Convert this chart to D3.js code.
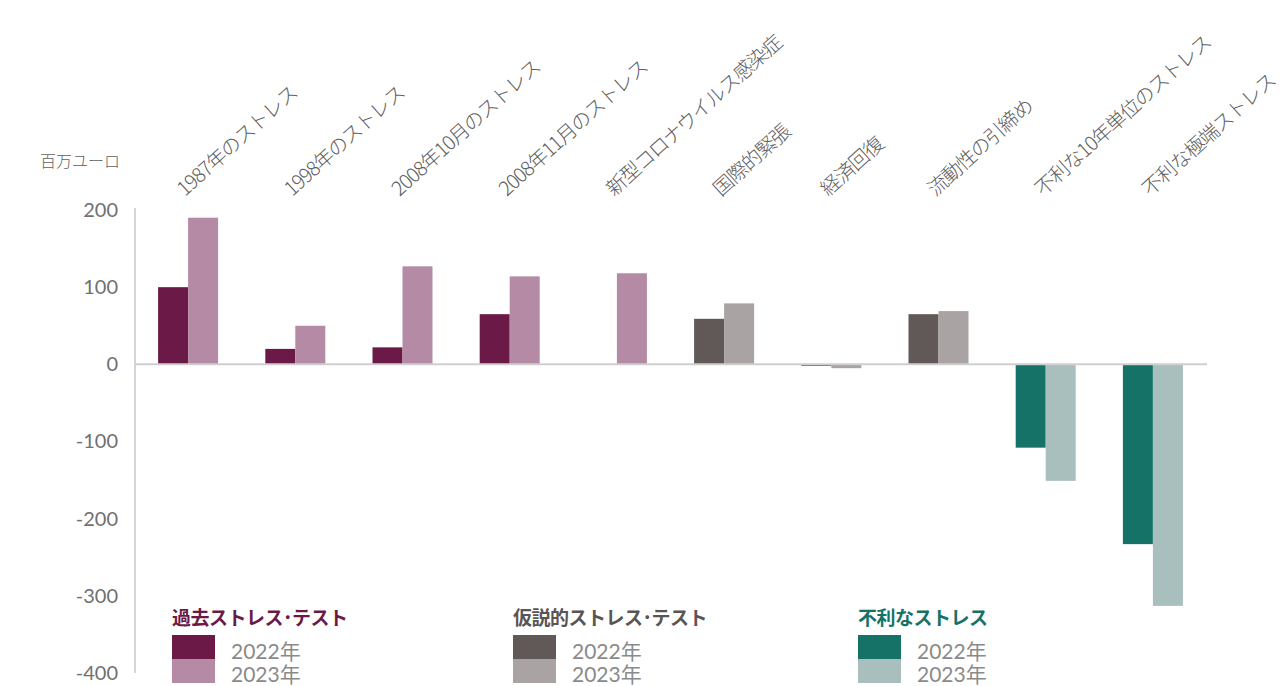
<!DOCTYPE html>
<html lang="ja">
<head>
    <meta charset="UTF-8">
    <title>ストレス・テスト</title>
    <script src="https://d3js.org/d3.v7.min.js"></script>
    <style>
        body {
            margin: 0;
            background: #fff;
            font-family: "Noto Sans CJK JP", "Noto Sans", sans-serif;
        }
        .tick text {
            font-family: Lato, "Noto Sans CJK JP", sans-serif;
            font-size: 20px;
            fill: #707070;
        }
        .cat-label {
            font-size: 20px;
            fill: #606060;
            font-weight: 300;
            letter-spacing: -1px;
        }
        .legend-title {
            font-size: 19px;
            font-weight: bold;
            letter-spacing: -0.5px;
        }
        .legend-text {
            font-family: Lato, "Noto Sans CJK JP", sans-serif;
            font-size: 21px;
            fill: #8a8a8a;
        }
    </style>
</head>
<body>
    <div id="chart"></div>

    <script>
        // Categories (scenario names)
        const categories = [
            "1987年のストレス",
            "1998年のストレス",
            "2008年10月のストレス",
            "2008年11月のストレス",
            "新型コロナウイルス感染症",
            "国際的緊張",
            "経済回復",
            "流動性の引締め",
            "不利な10年単位のストレス",
            "不利な極端ストレス"
        ];
        // group of each category: 0 = historical, 1 = hypothetical, 2 = adverse
        const groups = [0, 0, 0, 0, 0, 1, 1, 1, 2, 2];

        // values in millions of euro (null = no bar)
        const values2022 = [100, 20, 22, 65, null, 59, -2, 65, -108, -233];
        const values2023 = [190, 50, 127, 114, 118, 79, -5, 69, -151, -313];

        const yTicks = [200, 100, 0, -100, -200, -300, -400];
        const years = ["2022年", "2023年"];

        const groupNames = ["過去ストレス･テスト", "仮説的ストレス･テスト", "不利なストレス"];
        const titleColors = ["#6b1a48", "#5a5454", "#157266"];
        const colors2022 = ["#6b1a48", "#615958", "#157266"];
        const colors2023 = ["#b48aa4", "#a9a3a3", "#a9bfbd"];

        const W = 1286, H = 686;

        const svg = d3.select("#chart")
            .append("svg")
            .attr("width", W)
            .attr("height", H);

        // scales
        const x = d3.scaleBand()
            .domain(categories)
            .range([134.5, 1206.5])
            .padding(0);

        const barW = 30;
        const xSub = d3.scaleBand()
            .domain(years)
            .range([x.bandwidth() / 2 - barW, x.bandwidth() / 2 + barW]);

        const y = d3.scaleLinear()
            .domain([-400, 200])
            .range([673, 210]);

        // y axis (plain hyphen for negatives, as in the original)
        const yAxis = svg.append("g")
            .attr("transform", "translate(135,0)")
            .call(d3.axisLeft(y).tickValues(yTicks).tickSize(0).tickPadding(17)
                .tickFormat(d => String(d)));
        yAxis.select(".domain")
            .attr("stroke", "#c8c8c8")
            .attr("stroke-width", 1.5)
            .attr("d", `M0,${y(200) - 2}V${y(-400)}`);

        // unit label
        svg.append("text")
            .attr("x", 40)
            .attr("y", 167)
            .attr("font-size", 16)
            .attr("font-weight", 300)
            .attr("fill", "#606060")
            .text("百万ユーロ");

        // bars
        const data = categories.map((c, i) => ({
            cat: c,
            g: groups[i],
            vals: [values2022[i], values2023[i]]
        }));

        const catG = svg.selectAll(".cat")
            .data(data)
            .join("g")
            .attr("class", "cat")
            .attr("transform", d => `translate(${x(d.cat)},0)`);

        catG.selectAll("rect")
            .data(d => d.vals.map((v, j) => ({ v, j, g: d.g })).filter(e => e.v !== null))
            .join("rect")
            .attr("x", d => xSub(years[d.j]))
            .attr("width", xSub.bandwidth())
            .attr("y", d => y(Math.max(0, d.v)))
            .attr("height", d => Math.abs(y(d.v) - y(0)))
            .attr("fill", d => d.j === 0 ? colors2022[d.g] : colors2023[d.g]);

        // zero line
        svg.append("line")
            .attr("x1", 135)
            .attr("x2", 1207)
            .attr("y1", y(0))
            .attr("y2", y(0))
            .attr("stroke", "#cfcfcf")
            .attr("stroke-width", 2);

        // rotated category labels
        svg.selectAll(".cat-label")
            .data(categories)
            .join("text")
            .attr("class", "cat-label")
            .attr("transform", d => `translate(${x(d) + x.bandwidth() / 2 - 3},197) rotate(-42)`)
            .text(d => d);

        // legend
        const legendX = [172, 513, 858];
        const legend = svg.selectAll(".legend")
            .data(groupNames)
            .join("g")
            .attr("class", "legend")
            .attr("transform", (d, i) => `translate(${legendX[i]},0)`);

        legend.append("text")
            .attr("class", "legend-title")
            .attr("x", 0)
            .attr("y", 625)
            .attr("fill", (d, i) => titleColors[i])
            .text(d => d);

        years.forEach((yr, j) => {
            legend.append("rect")
                .attr("x", 0)
                .attr("y", 635 + j * 24)
                .attr("width", 43)
                .attr("height", 24)
                .attr("fill", (d, i) => j === 0 ? colors2022[i] : colors2023[i]);
            legend.append("text")
                .attr("class", "legend-text")
                .attr("x", 59)
                .attr("y", 659 + j * 23)
                .text(yr);
        });
    </script>
</body>
</html>
